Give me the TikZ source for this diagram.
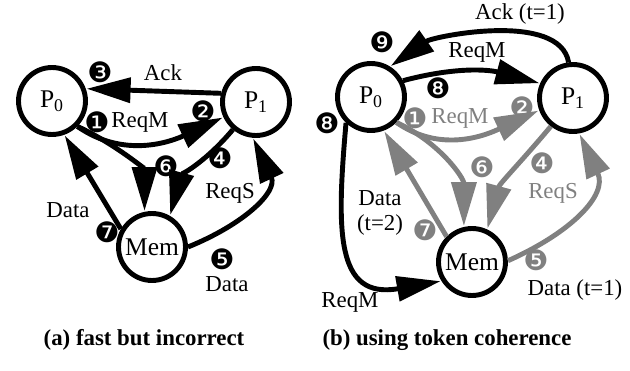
\documentclass[tikz,border=0pt]{standalone}
\usepackage{fontspec}
\setmainfont{Liberation Serif}
\newfontfamily\dingfont{DejaVu Sans}
\usetikzlibrary{arrows.meta,automata}
\definecolor{msggray}{gray}{0.5}
\newcommand{\tok}[1]{{\dingfont\char\numexpr"2775+#1\relax}}

\begin{document}
\begin{tikzpicture}[->,>={Triangle[length=25pt,width=14pt]},shorten >=0.5pt,
                    x=0.02cm,y=0.02cm,line width=2.8pt]
  \tikzstyle{every state}=[fill=white,draw=black,text=black,minimum size=1.34cm,
                           inner sep=0pt,line width=2.8pt,
                           font=\fontsize{14.5}{15}\selectfont]
  \tikzstyle{msg}=[font=\fontsize{13}{14}\selectfont,inner sep=1pt]
  \tikzstyle{num}=[font=\fontsize{16}{16}\selectfont,inner sep=0pt]
  \tikzstyle{faded}=[draw=msggray,text=msggray]
  \tikzstyle{caption}=[font=\fontsize{13}{14}\selectfont\bfseries]

  \useasboundingbox (0,0) rectangle (630,370);

  % (a) fast but incorrect
  \node[state] (A0) at (52,269)  {P\textsubscript{0}};
  \node[state] (A1) at (256,268) {P\textsubscript{1}};
  \node[state] (AM) at (152,123) {Mem};

  \path (A0.-45) edge [out=-35,in=205]               (A1.205)
        (A0.-45) edge [out=-25,in=90]                (AM.102)
        (A1.230) edge [out=-130,in=75]               (AM.60)
        (AM.0)   edge [out=22,in=-65,looseness=1.2]  (A1.-95)
        (AM.150) edge                                (A0.-70)
        (A1.166) edge                                (A0.20);

  \node[num] (a1) at (97,248)  {\tok{1}};
  \node[msg] (aReqM) at (140,248) {ReqM};
  \node[num] (a2) at (203,259) {\tok{2}};
  \node[num] (a3) at (100,298) {\tok{3}};
  \node[msg] (aAck) at (163,297) {Ack};
  \node[num] (a4) at (220,212) {\tok{4}};
  \node[msg] (aReqS) at (230,177) {ReqS};
  \node[num] (a5) at (222,111) {\tok{5}};
  \node[msg] (aData5) at (227,86) {Data};
  \node[num] (a6) at (166,204) {\tok{6}};
  \node[num] (a7) at (107,138) {\tok{7}};
  \node[msg] (aData7) at (68,160) {Data};

  \node[caption] (capA) at (144,30) {(a) fast but incorrect};

  % (b) using token coherence
  \node[state] (B0) at (371,273) {P\textsubscript{0}};
  \node[state] (B1) at (573,272) {P\textsubscript{1}};
  \node[state] (BM) at (472,108) {Mem};

  \path (B0.-45) edge [faded,out=-35,in=205]              (B1.200)
        (B0.-45) edge [faded,out=-25,in=90]               (BM.103)
        (B1.232) edge [faded,out=-130,in=75]              (BM.65)
        (BM.2)   edge [faded,out=24,in=-65,looseness=1.2] (B1.-80)
        (BM.135) edge [faded]                             (B0.-69);

  \path (B1.97)  edge [out=100,in=35,looseness=0.75]  (B0.58)
        (B0.27)  edge [out=15,in=165]                 (B1.156)
        (B0.226) edge [out=-95,in=190,looseness=1.5]  (BM.212);

  \node[num,text=msggray] (b1) at (415,252) {\tok{1}};
  \node[msg,text=msggray] (bReqM) at (460,252) {ReqM};
  \node[num,text=msggray] (b2) at (522,263) {\tok{2}};
  \node[num,text=msggray] (b4) at (542,207) {\tok{4}};
  \node[msg,text=msggray] (bReqS) at (553,177) {ReqS};
  \node[num,text=msggray] (b5) at (536,110) {\tok{5}};
  \node[num,text=msggray] (b6) at (482,203) {\tok{6}};
  \node[num,text=msggray] (b7) at (425,140) {\tok{7}};

  \node[msg] (bAck) at (520,356) {Ack (t=1)};
  \node[num] (b9) at (382,328) {\tok{9}};
  \node[msg] (bReqMtop) at (477,318) {ReqM};
  \node[num] (b8top) at (438,282) {\tok{8}};
  \node[num] (b8left) at (327,247) {\tok{8}};
  \node[msg,align=center] (bData7) at (380,157) {Data\\(t=2)};
  \node[msg] (bData5) at (575,80) {Data (t=1)};
  \node[msg] (bReqMbot) at (350,68) {ReqM};

  \node[caption] (capB) at (447,30) {(b) using token coherence};
\end{tikzpicture}
\end{document}
